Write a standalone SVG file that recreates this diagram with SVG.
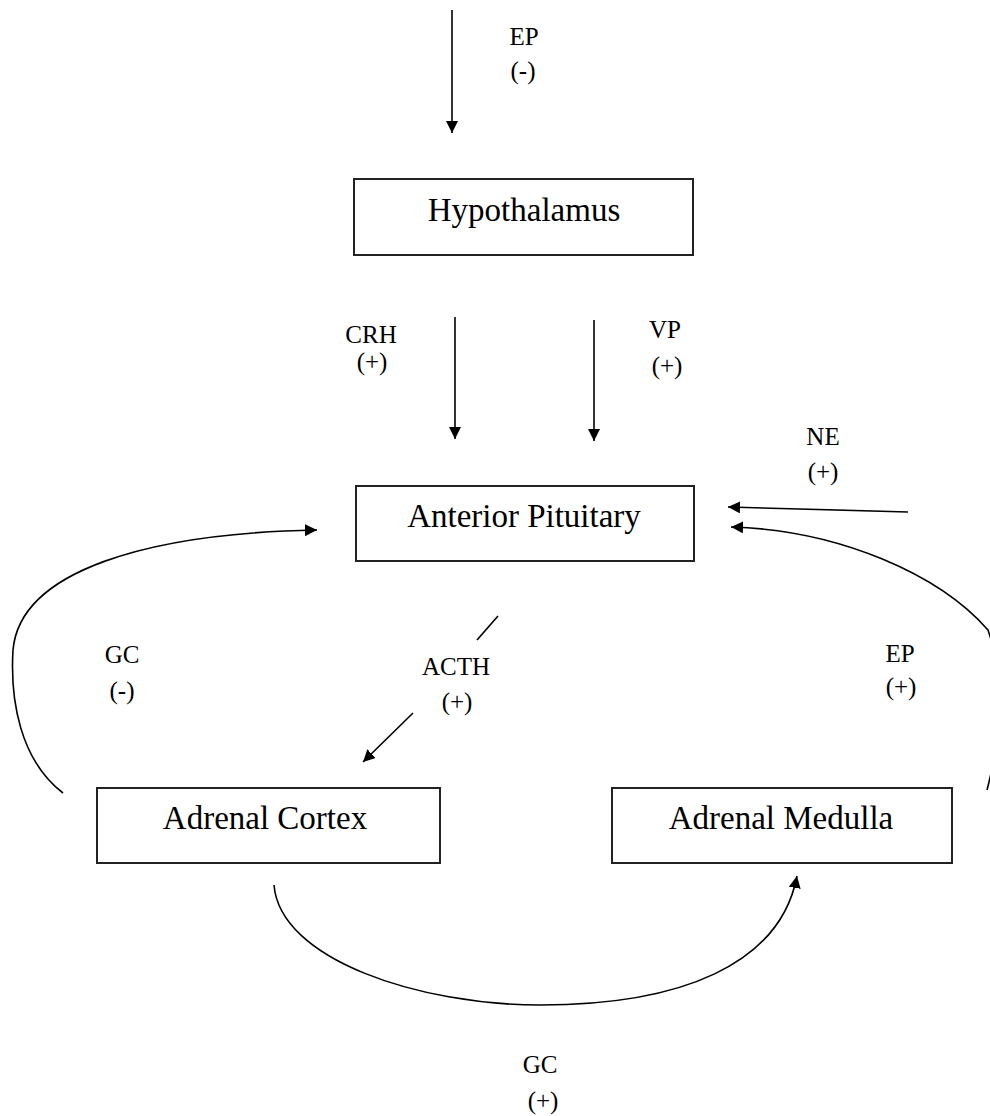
<svg xmlns="http://www.w3.org/2000/svg" width="990" height="1116" viewBox="0 0 990 1116">
  <defs>
    <marker id="ah" markerUnits="userSpaceOnUse" markerWidth="14" markerHeight="12" refX="12" refY="6" orient="auto">
      <path d="M0,0 L12,6 L0,12 Z" fill="#000"/>
    </marker>
    <style>
      .box { fill: #fff; stroke: #222; stroke-width: 2; }
      .node { font-family: "Liberation Serif", "Times New Roman", serif; font-size: 33px; fill: #000; text-anchor: middle; }
      .lbl { font-family: "Liberation Serif", "Times New Roman", serif; font-size: 25px; fill: #000; text-anchor: middle; }
      .ln { fill: none; stroke: #000; stroke-width: 1.6; }
    </style>
  </defs>
  <rect width="990" height="1116" fill="#fff"/>

  <g id="hypothalamus">
    <rect class="box" x="354" y="179" width="339" height="76"/>
    <text class="node" x="524" y="221">Hypothalamus</text>
  </g>
  <g id="anterior-pituitary">
    <rect class="box" x="356" y="486" width="338" height="75"/>
    <text class="node" x="524" y="527">Anterior Pituitary</text>
  </g>
  <g id="adrenal-cortex">
    <rect class="box" x="97" y="788" width="343" height="75"/>
    <text class="node" x="265" y="829">Adrenal Cortex</text>
  </g>
  <g id="adrenal-medulla">
    <rect class="box" x="612" y="788" width="340" height="75"/>
    <text class="node" x="781" y="829">Adrenal Medulla</text>
  </g>

  <g id="connectors">
    <line class="ln" x1="452" y1="10" x2="452" y2="133" marker-end="url(#ah)"/>
    <line class="ln" x1="455" y1="317" x2="455" y2="439" marker-end="url(#ah)"/>
    <line class="ln" x1="594" y1="320" x2="594" y2="441" marker-end="url(#ah)"/>
    <line class="ln" x1="908" y1="512" x2="728" y2="507" marker-end="url(#ah)"/>
    <path class="ln" d="M987,790 C1000,740 1005,680 988,630 C940,575 840,530 731,527" marker-end="url(#ah)"/>
    <path class="ln" d="M63,793 C20,760 10,700 13,650 C20,570 150,533 317,530" marker-end="url(#ah)"/>
    <line class="ln" x1="477" y1="640" x2="498" y2="616"/>
    <line class="ln" x1="413" y1="713" x2="363" y2="762" marker-end="url(#ah)"/>
    <path class="ln" d="M274,885 C280,960 420,1005 540,1005 C680,1005 780,965 797,876" marker-end="url(#ah)"/>
  </g>

  <g id="labels">
    <text class="lbl" x="524" y="45">EP</text>
    <text class="lbl" x="523" y="79">(-)</text>
    <text class="lbl" x="371" y="343">CRH</text>
    <text class="lbl" x="372" y="370">(+)</text>
    <text class="lbl" x="665" y="338">VP</text>
    <text class="lbl" x="667" y="374">(+)</text>
    <text class="lbl" x="823" y="445">NE</text>
    <text class="lbl" x="823" y="480">(+)</text>
    <text class="lbl" x="122" y="663">GC</text>
    <text class="lbl" x="122" y="699">(-)</text>
    <text class="lbl" x="456" y="675">ACTH</text>
    <text class="lbl" x="457" y="710">(+)</text>
    <text class="lbl" x="900" y="662">EP</text>
    <text class="lbl" x="901" y="695">(+)</text>
    <text class="lbl" x="540" y="1073">GC</text>
    <text class="lbl" x="543" y="1109">(+)</text>
  </g>
</svg>
